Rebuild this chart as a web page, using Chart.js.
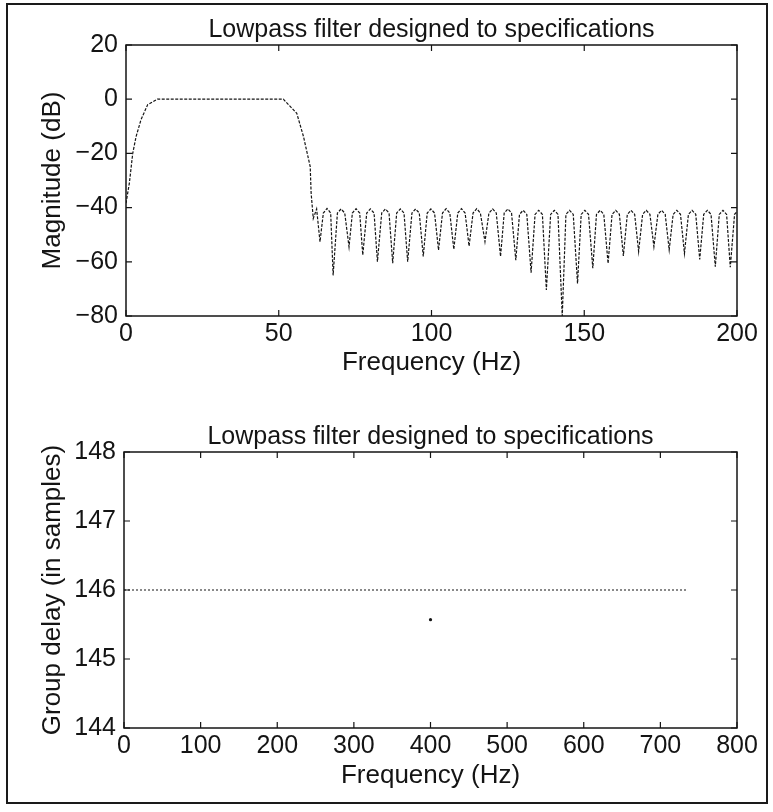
<!DOCTYPE html>
<html>
<head>
<meta charset="utf-8">
<title>Lowpass filter designed to specifications</title>
<script src="https://cdn.jsdelivr.net/npm/chart.js@4.4.1/dist/chart.umd.min.js"></script>
<style>
  html, body { margin: 0; padding: 0; background: #fff; }
  #page { position: relative; width: 773px; height: 812px; overflow: hidden; background: #fff; }
  #frame { position: absolute; left: 6px; top: 3px; width: 762px; height: 801px; border: 2px solid #1a1a1a; box-sizing: border-box; }
  canvas { position: absolute; left: 0; }
  #mag { top: 0; }
  #delay { top: 395px; }
</style>
</head>
<body>
<div id="page">
  <div id="frame"></div>
  <canvas id="mag" width="773" height="395"></canvas>
  <canvas id="delay" width="773" height="417"></canvas>
</div>
<script>
"use strict";

// top plot - magnitude response (Hz, dB)
var magFreq = [
    0, 1.1, 2.2, 3.3, 4.9, 7.1, 10.3, 51.5, 55.9, 58.1, 60.3, 60.6, 61.3, 62.4, 63.5,
    64.6, 65.8, 67.0, 67.8,   69.2, 70.4, 71.6, 73.0,   74.1, 75.3, 76.5, 77.5,
    78.8, 80.0, 81.2, 82.3,   83.7, 84.9, 86.1, 87.3,   88.6, 89.8, 91.0, 92.2,
    93.6, 94.8, 96.0, 97.3,   98.6, 99.8, 101.0, 102.3, 103.6, 104.8, 106.0, 107.3,
    108.6, 109.8, 111.0, 112.3, 113.6, 114.8, 116.0, 117.5, 118.8, 120.0, 121.2, 122.6,
    123.8, 125.0, 126.2, 127.6, 128.8, 130.0, 131.2, 132.6, 133.9, 135.1, 136.3, 137.6,
    139.0, 140.2, 141.4, 142.8, 144.0, 145.2, 146.4, 147.8, 149.0, 150.2, 151.4, 152.8,
    154.0, 155.2, 156.4, 157.8, 159.1, 160.3, 161.5, 162.8, 164.1, 165.3, 166.5, 167.8,
    169.1, 170.3, 171.5, 172.8, 174.1, 175.3, 176.5, 177.8, 179.1, 180.3, 181.5, 182.8,
    184.1, 185.3, 186.5, 187.8, 189.1, 190.3, 191.5, 192.9, 194.2, 195.4, 196.6, 197.8,
    199.2, 200
];
var magDb = [
    -38.4, -31, -20, -13.8, -7.6, -2, 0, 0, -5.2, -13.8, -24.9, -34.7, -44, -40.5, -52.6,
    -42, -40.3, -42, -65,     -42, -40.5, -42, -54.5,   -42, -40.4, -42, -57.5,
    -42, -40.5, -42, -60,     -42, -40.5, -42, -60.5,   -42, -40.5, -42, -60,
    -42, -40.5, -42, -58,     -42, -40.5, -42, -55.7,   -42, -40.4, -42, -55.4,
    -42, -40.4, -42, -54.2,   -42, -40.4, -42, -52.6,   -42, -40.5, -42, -58,
    -42, -40.5, -42, -59.4,   -42.5, -41, -42.5, -64,   -42.5, -41, -42.5, -70.4,
    -42.5, -41, -42.5, -80,   -42.5, -41, -42.5, -68,   -42.5, -41, -42.5, -62.4,
    -42.5, -41, -42.5, -60.6, -42.5, -41, -42.5, -57.8, -42.5, -41, -42.5, -56.2,
    -42.5, -41, -42.5, -54.4, -42.5, -41, -42.5, -55.6, -42.5, -41, -42.5, -56.9,
    -42.5, -41, -42.5, -59.1, -42.5, -41, -42.5, -61.8, -42.5, -41, -42.5, -62,
    -42.5, -41.5
];
var magTicksX = [0, 50, 100, 150, 200];
var magTicksY = [-80, -60, -40, -20, 0, 20];

// bottom plot - group delay (Hz, samples)
var delayFreq = [0, 735];
var delaySamples = [146, 146];
var speckFreq = [400];
var speckSamples = [145.57];
var delayTicksX = [0, 100, 200, 300, 400, 500, 600, 700, 800];
var delayTicksY = [144, 145, 146, 147, 148];

var FONT = "'Liberation Sans', Helvetica, Arial, sans-serif";
var INK = '#141414';

function points(xs, ys) {
    return xs.map(function(x, i) { return {x: x, y: ys[i]}; });
}

// matlab style box with inward ticks on all four sides
var boxPlugin = {
    id: 'matlabBox',
    afterDatasetsDraw: function(chart) {
        var ctx = chart.ctx, a = chart.chartArea;
        var sx = chart.scales.x, sy = chart.scales.y;
        ctx.save();
        ctx.strokeStyle = INK;
        ctx.lineWidth = 1.5;
        ctx.strokeRect(a.left, a.top, a.right - a.left, a.bottom - a.top);
        ctx.lineWidth = 1.2;
        ctx.beginPath();
        sx.ticks.forEach(function(t) {
            var px = sx.getPixelForValue(t.value);
            ctx.moveTo(px, a.bottom); ctx.lineTo(px, a.bottom - 6);
            ctx.moveTo(px, a.top); ctx.lineTo(px, a.top + 6);
        });
        sy.ticks.forEach(function(t) {
            var py = sy.getPixelForValue(t.value);
            ctx.moveTo(a.left, py); ctx.lineTo(a.left + 6, py);
            ctx.moveTo(a.right, py); ctx.lineTo(a.right - 6, py);
        });
        ctx.stroke();
        ctx.restore();
    }
};

function makeChart(id, cfg) {
    var ctx = document.getElementById(id).getContext('2d');
    return new Chart(ctx, {
        type: 'line',
        data: {datasets: cfg.datasets},
        plugins: [boxPlugin],
        options: {
            responsive: false,
            animation: false,
            devicePixelRatio: 1,
            layout: {padding: {left: 0, right: cfg.padRight, top: 0, bottom: cfg.padBottom}},
            plugins: {
                legend: {display: false},
                tooltip: {enabled: false},
                title: {
                    display: true,
                    fullSize: false,    // centre it over the axes, not the canvas
                    text: 'Lowpass filter designed to specifications',
                    color: INK,
                    font: {family: FONT, size: 25, weight: 'normal'},
                    padding: {top: cfg.titleTop, bottom: cfg.titleBottom}
                }
            },
            scales: {
                x: {
                    type: 'linear',
                    min: cfg.xTicks[0],
                    max: cfg.xTicks[cfg.xTicks.length - 1],
                    afterBuildTicks: function(s) { s.ticks = cfg.xTicks.map(function(v) { return {value: v}; }); },
                    afterFit: function(s) { s.height = cfg.xHeight; },
                    grid: {display: false, drawTicks: false},
                    border: {display: false},
                    ticks: {color: INK, font: {family: FONT, size: 25}, padding: 3, maxRotation: 0},
                    title: {display: true, text: 'Frequency (Hz)', color: INK,
                            font: {family: FONT, size: 26}, padding: {top: 0, bottom: 0}}
                },
                y: {
                    type: 'linear',
                    min: cfg.yTicks[0],
                    max: cfg.yTicks[cfg.yTicks.length - 1],
                    afterBuildTicks: function(s) { s.ticks = cfg.yTicks.map(function(v) { return {value: v}; }); },
                    afterFit: function(s) { s.width = cfg.yWidth; },
                    grid: {display: false, drawTicks: false},
                    border: {display: false},
                    ticks: {
                        color: INK, font: {family: FONT, size: 25}, padding: 8,
                        callback: function(v) { return String(v).replace('-', '\u2212'); }
                    },
                    title: {display: true, text: cfg.yTitle, color: INK,
                            font: {family: FONT, size: 26}, padding: {top: 37, bottom: 0}}
                }
            }
        }
    });
}

// magnitude response
makeChart('mag', {
    datasets: [{
        data: points(magFreq, magDb),
        borderColor: INK,
        borderWidth: 1.2,
        borderDash: [3, 1.5],
        pointRadius: 0,
        tension: 0
    }],
    xTicks: magTicksX, yTicks: magTicksY,
    yTitle: 'Magnitude (dB)',
    yWidth: 126, xHeight: 62,
    padRight: 36, padBottom: 17,
    titleTop: 15, titleBottom: 0
});

// group delay
makeChart('delay', {
    datasets: [{
        data: points(delayFreq, delaySamples),
        borderColor: INK,
        borderWidth: 1,
        borderDash: [2, 2],
        pointRadius: 0
    }, {
        data: points(speckFreq, speckSamples),
        showLine: false,
        pointRadius: 1.6,
        pointBackgroundColor: INK,
        pointBorderWidth: 0
    }],
    xTicks: delayTicksX, yTicks: delayTicksY,
    yTitle: 'Group delay (in samples)',
    yWidth: 124, xHeight: 63,
    padRight: 36, padBottom: 21,
    titleTop: 27, titleBottom: 0
});
</script>
</body>
</html>
